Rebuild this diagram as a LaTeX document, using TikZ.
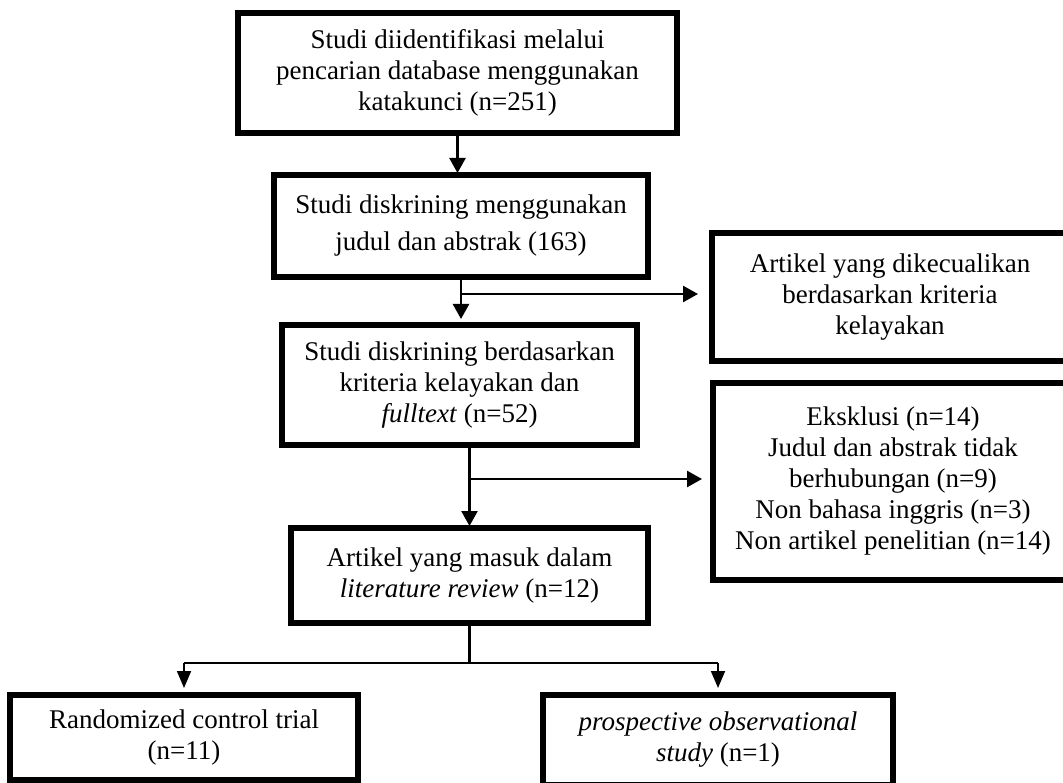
\documentclass[tikz,border=0pt]{standalone}
\usepackage{fontspec}
\setmainfont{Liberation Serif}
\usetikzlibrary{positioning, arrows.meta}
\tikzset{
    stage/.style={rectangle, draw=black, line width=5.5pt, outer sep=0pt, inner sep=0pt, align=center, font=\fontsize{27}{31}\selectfont},
    arrow/.style={line width=2.5pt, -{Triangle[width=16pt,length=15pt]}},
    thinarrow/.style={line width=1.8pt, -{Triangle[width=14pt,length=17pt]}},
    link/.style={line width=2.5pt},
    thinlink/.style={line width=1.8pt}
}
\begin{document}
\begin{tikzpicture}[x=1pt, y=-1pt]
        \useasboundingbox (0,0) rectangle (1063,783);
        \clip (0,0) rectangle (1063,783);

        % main column
        \node (ident) [stage, minimum width=439pt, minimum height=120pt] at (457.5,73) {Studi diidentifikasi melalui\\pencarian database menggunakan\\katakunci (n=251)};
        \node (screen) [stage, minimum width=374pt, minimum height=102pt, font=\fontsize{27}{37}\selectfont, below=42pt of ident, xshift=3.5pt] {Studi diskrining menggunakan\\judul dan abstrak (163)};
        \node (elig) [stage, minimum width=355pt, minimum height=120pt, below=48pt of screen, xshift=-1.5pt] {Studi diskrining berdasarkan\\kriteria kelayakan dan\\\textit{fulltext} (n=52)};
        \node (incl) [stage, minimum width=357pt, minimum height=95pt, below=83pt of elig, xshift=10pt] {Artikel yang masuk dalam\\\textit{literature review} (n=12)};

        % excluded
        \node (excl1) [stage, minimum width=356pt, minimum height=128pt] at (890,297) {Artikel yang dikecualikan\\berdasarkan kriteria\\kelayakan};
        \node (excl2) [stage, minimum width=360pt, minimum height=197pt] at (893,481.5) {Eksklusi (n=14)\\Judul dan abstrak tidak\\berhubungan (n=9)\\Non bahasa inggris (n=3)\\Non artikel penelitian (n=14)};

        % study types
        \node (rct) [stage, minimum width=348pt, minimum height=85pt] at (184,737.5) {Randomized control trial\\(n=11)};
        \node (pos) [stage, minimum width=350pt, minimum height=90pt] at (718,740) {\textit{prospective observational}\\\textit{study} (n=1)};

        \coordinate (br1) at ([yshift=-17pt]screen.south);
        \coordinate (br2) at ([yshift=-34pt]elig.south -| incl.north);
        \coordinate (split) at ([yshift=-40pt]incl.south);

        \draw [arrow, shorten >=2pt] (ident.south) -- (ident.south |- screen.north);
        \draw [arrow, shorten >=6pt] (screen.south) -- (screen.south |- elig.north);
        \draw [arrow, shorten >=14pt] (br1) -- (br1 -| excl1.west);
        \draw [arrow, shorten >=2pt] (elig.south -| incl.north) -- (incl.north);
        \draw [arrow, shorten >=11pt] (br2) -- (br2 -| excl2.west);
        \draw [link] (incl.south) -- (split);
        \draw [thinlink] (split -| rct.north) -- (split -| pos.north);
        \draw [thinarrow, shorten >=7pt] (split -| rct.north) -- (rct.north);
        \draw [thinarrow, shorten >=7pt] (split -| pos.north) -- (pos.north);
    \end{tikzpicture}
\end{document}
